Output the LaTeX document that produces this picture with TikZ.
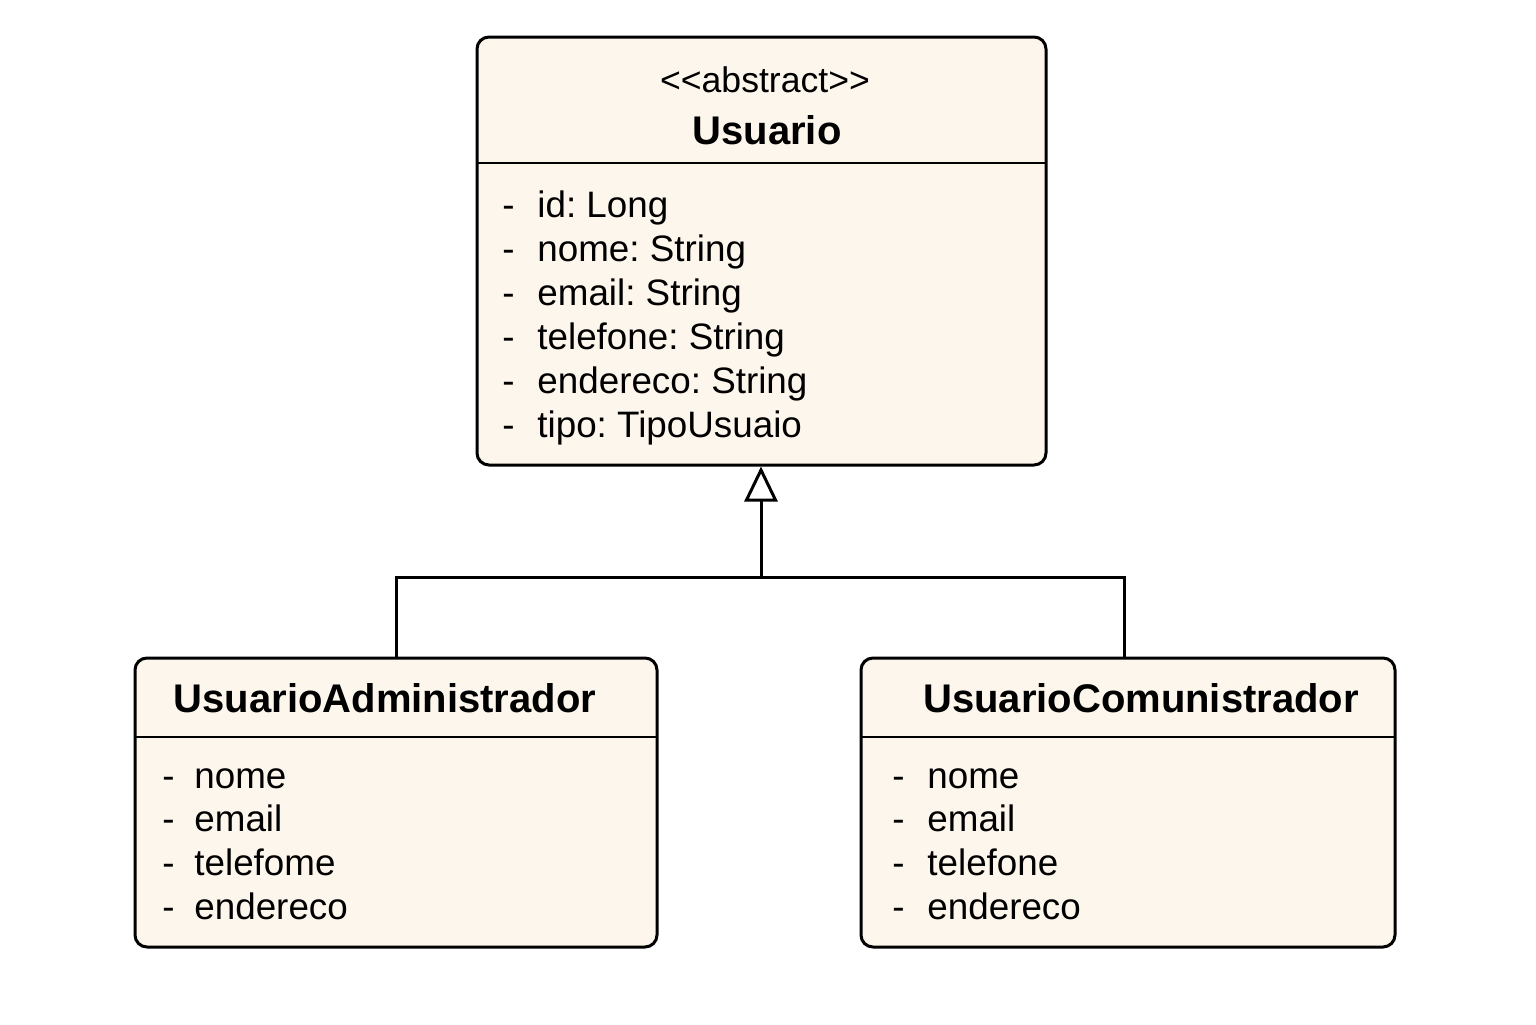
\documentclass[tikz,border=0pt]{standalone}
\usepackage{fontspec}
\setmainfont{Liberation Sans}
\usetikzlibrary{arrows.meta}
\frenchspacing
\definecolor{boxfill}{HTML}{FDF6EC}
\tikzset{
  classbox/.style={draw=black, line width=1.5pt, fill=boxfill, rounded corners=6pt, inner sep=0pt},
  divider/.style={line width=1pt},
  attr/.style={anchor=west, inner sep=0pt, text height=0.75em, text depth=0.25em, font=\fontsize{18.4}{22}\selectfont},
  dashmark/.style={attr},
  title/.style={inner sep=0pt, text height=0.75em, text depth=0.25em, font=\fontsize{20}{24}\selectfont\bfseries},
  stereo/.style={inner sep=0pt, text height=0.75em, text depth=0.25em, font=\fontsize{17.8}{22}\selectfont},
  conn/.style={line width=1.5pt},
}
\begin{document}
\begin{tikzpicture}[x=0.5pt, y=-0.5pt]
\useasboundingbox (0,0) rectangle (1536,1024);
% top class
\node[classbox, minimum width=284.5pt, minimum height=214pt] (usuario) at (761.5,251) {};
\draw[divider] (477,163) -- (1046,163);
\node[stereo] (st) at (765,87) {{<}{<}abstract{>}{>}};
\node[title] (ut) at (767,139) {Usuario};
\foreach \i/\t in {0/id: Long, 1/nome: String, 2/email: String, 3/telefone: String, 4/endereco: String, 5/tipo: TipoUsuaio}{
  \node[dashmark] (ud\i) at (502,212+44*\i) {-};
  \node[attr] (ua\i) at (537,212+44*\i) {\t};
}
% left class
\node[classbox, minimum width=261pt, minimum height=144.5pt] (admin) at (396,802.5) {};
\draw[divider] (135,737) -- (657,737);
\node[title] (at) at (385,707) {UsuarioAdministrador};
\foreach \i/\t in {0/nome, 1/email, 2/telefome, 3/endereco}{
  \node[dashmark] (ad\i) at (162,783+43.7*\i) {-};
  \node[attr] (aa\i) at (194,783+43.7*\i) {\t};
}
% right class
\node[classbox, minimum width=267pt, minimum height=144.5pt] (comun) at (1128,802.5) {};
\draw[divider] (861,737) -- (1395,737);
\node[title] (ct) at (1141,707) {UsuarioComunistrador};
\foreach \i/\t in {0/nome, 1/email, 2/telefone, 3/endereco}{
  \node[dashmark] (cd\i) at (892,783+43.7*\i) {-};
  \node[attr] (ca\i) at (927,783+43.7*\i) {\t};
}
% generalization
\coordinate (junc) at (761,577);
\coordinate (ja) at (396,577);
\coordinate (jc) at (1124,577);
\draw[conn] (admin.north) -- (ja) -- (jc) -- (jc |- comun.north);
\draw[conn, -{Triangle[open, fill=white, length=17.5pt, width=16.5pt, line width=1.5pt]}] (junc) -- (junc |- usuario.south);
\end{tikzpicture}
\end{document}
